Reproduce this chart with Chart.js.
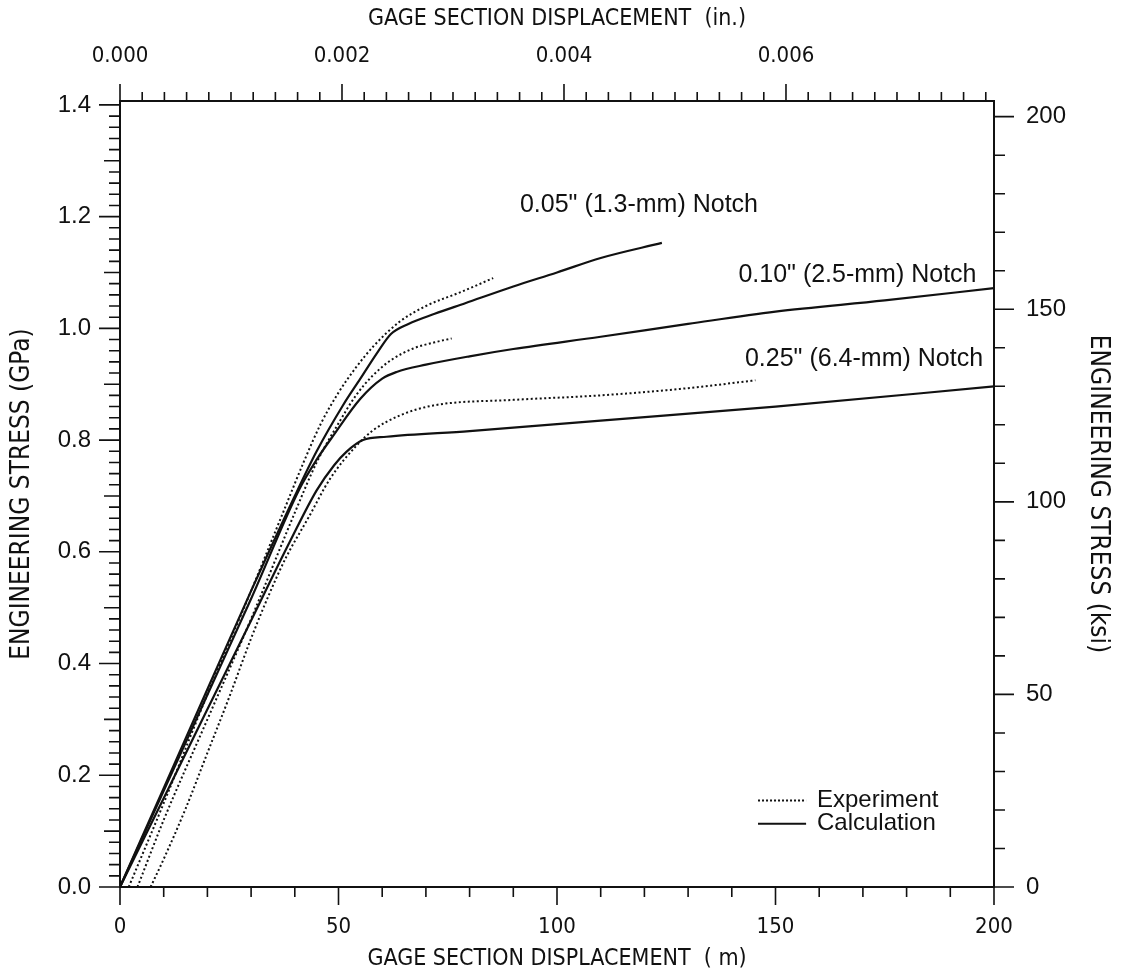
<!DOCTYPE html>
<html lang="en">
<head>
<meta charset="UTF-8">
<title>Engineering stress vs gage section displacement</title>
<script src="https://cdn.jsdelivr.net/npm/chart.js"></script>
<style>
  body { margin: 0; background: #fff; }
  #wrap { width: 1121px; height: 980px; }
</style>
</head>
<body>
<div id="wrap"><canvas id="stressChart"></canvas></div>
<script>
// displacement in micrometres, stress in GPa
const calc05X = [0, 10, 20, 30, 40, 45, 51, 55, 59, 62, 66, 72, 79, 90, 100, 110, 124];
const calc05Y = [0, 0.177, 0.354, 0.53, 0.70, 0.78, 0.862, 0.91, 0.958, 0.99, 1.008, 1.026, 1.045, 1.075, 1.10, 1.126, 1.153];
const exp05X = [2, 10, 20, 30, 37.3, 42, 46, 50, 54, 58, 64, 70, 78, 85.4];
const exp05Y = [0, 0.15, 0.345, 0.53, 0.67, 0.76, 0.83, 0.885, 0.93, 0.968, 1.012, 1.04, 1.065, 1.09];

const calc10X = [0, 10, 20, 30, 41.1, 45, 48.8, 55, 60, 63.3, 70, 80, 90, 110, 130, 150, 175, 200];
const calc10Y = [0, 0.172, 0.344, 0.516, 0.713, 0.765, 0.808, 0.874, 0.91, 0.922, 0.935, 0.95, 0.963, 0.985, 1.008, 1.03, 1.05, 1.072];
const exp10X = [4, 10, 20, 30, 40, 45, 50, 54, 57.9, 62, 67.1, 72, 75.9];
const exp10Y = [0, 0.12, 0.30, 0.48, 0.67, 0.76, 0.83, 0.88, 0.916, 0.943, 0.964, 0.975, 0.982];

const calc25X = [0, 10, 20, 30, 38.8, 45, 49, 51.8, 55.6, 61, 80, 110, 150, 200];
const calc25Y = [0, 0.159, 0.318, 0.477, 0.617, 0.71, 0.755, 0.779, 0.80, 0.806, 0.816, 0.835, 0.86, 0.896];
const exp25X = [7, 10, 15, 20, 25, 30, 34.3, 38, 43.4, 48, 54.1, 58, 64, 71.7, 90, 109.9, 130, 145.4];
const exp25Y = [0, 0.05, 0.14, 0.24, 0.34, 0.445, 0.527, 0.59, 0.665, 0.73, 0.79, 0.818, 0.844, 0.862, 0.872, 0.88, 0.893, 0.907];

const bottomTicks = [0, 50, 100, 150, 200];
const topTicks = [0, 0.002, 0.004, 0.006];
const leftTicks = [0, 0.2, 0.4, 0.6, 0.8, 1.0, 1.2, 1.4];
const rightTicks = [0, 50, 100, 150, 200];

const UM_PER_IN = 25400;
const KSI_PER_GPA = 145.038;
const X_MAX = 200;
const Y_MAX = 1.407;

const INK = '#111';
const plain = '"Liberation Sans", Arial, sans-serif';
const narrow = '"Liberation Sans Narrow", "DejaVu Sans Condensed", "Liberation Sans", sans-serif';

function pts(xs, ys) {
  return xs.map((x, i) => ({ x: x, y: ys[i] }));
}

function curve(xs, ys, dotted) {
  return {
    data: pts(xs, ys),
    borderColor: INK,
    borderWidth: dotted ? 2 : 2.2,
    borderDash: dotted ? [2, 2.5] : [],
    pointRadius: 0,
    cubicInterpolationMode: 'monotone',
    fill: false
  };
}

function fixedTicks(list) {
  return scale => { scale.ticks = list.map(v => ({ value: v })); };
}

// tick marks on all four sides, drawn outward
const tickMarks = {
  id: 'tickMarks',
  afterDraw(chart) {
    const ctx = chart.ctx;
    const a = chart.chartArea;
    const s = chart.scales;
    ctx.save();
    ctx.strokeStyle = INK;
    ctx.lineWidth = 1.6;
    ctx.beginPath();
    for (let i = 0; i <= 20; i++) {
      const px = s.x.getPixelForValue(i * 10);
      ctx.moveTo(px, a.bottom);
      ctx.lineTo(px, a.bottom + (i % 5 === 0 ? 18 : 10));
    }
    for (let i = 0; i <= 39; i++) {
      const px = s.xTop.getPixelForValue(i * 0.0002);
      ctx.moveTo(px, a.top);
      ctx.lineTo(px, a.top - (i % 10 === 0 ? 17 : 9));
    }
    for (let i = 0; i <= 70; i++) {
      const py = s.y.getPixelForValue(i * 0.02);
      ctx.moveTo(a.left, py);
      ctx.lineTo(a.left - (i % 10 === 0 ? 21 : (i % 5 === 0 ? 16 : 11)), py);
    }
    for (let i = 0; i <= 20; i++) {
      const py = s.yRight.getPixelForValue(i * 10);
      ctx.moveTo(a.right, py);
      ctx.lineTo(a.right + (i % 5 === 0 ? 20 : 11), py);
    }
    ctx.stroke();
    ctx.restore();
  }
};

// notch labels and the small line-style key
const notes = {
  id: 'notes',
  afterDraw(chart) {
    const ctx = chart.ctx;
    const x = chart.scales.x;
    const y = chart.scales.y;
    ctx.save();
    ctx.fillStyle = INK;
    ctx.font = '25px ' + plain;
    ctx.textBaseline = 'middle';
    ctx.textAlign = 'right';
    ctx.fillText('0.05" (1.3-mm) Notch', x.getPixelForValue(146), y.getPixelForValue(1.22));
    ctx.fillText('0.10" (2.5-mm) Notch', x.getPixelForValue(196), y.getPixelForValue(1.095));
    ctx.fillText('0.25" (6.4-mm) Notch', x.getPixelForValue(197.5), y.getPixelForValue(0.945));

    ctx.font = '24px ' + plain;
    ctx.textAlign = 'left';
    const lx0 = x.getPixelForValue(146);
    const lx1 = x.getPixelForValue(157);
    const tx = x.getPixelForValue(159.5);
    const rows = [['Experiment', true, 0.155], ['Calculation', false, 0.113]];
    rows.forEach(r => {
      const py = y.getPixelForValue(r[2]);
      ctx.beginPath();
      ctx.lineWidth = 2;
      ctx.strokeStyle = INK;
      ctx.setLineDash(r[1] ? [2, 2] : []);
      ctx.moveTo(lx0, py);
      ctx.lineTo(lx1, py);
      ctx.stroke();
      ctx.setLineDash([]);
      ctx.fillText(r[0], tx, py);
    });
    ctx.restore();
  }
};

const axisBorder = { display: true, color: INK, width: 2 };

new Chart(document.getElementById('stressChart'), {
  type: 'line',
  data: {
    datasets: [
      curve(calc05X, calc05Y, false),
      curve(exp05X, exp05Y, true),
      curve(calc10X, calc10Y, false),
      curve(exp10X, exp10Y, true),
      curve(calc25X, calc25Y, false),
      curve(exp25X, exp25Y, true)
    ]
  },
  options: {
    responsive: true,
    maintainAspectRatio: false,
    animation: false,
    layout: { padding: 0 },
    plugins: { legend: { display: false }, tooltip: { enabled: false } },
    scales: {
      x: {
        type: 'linear', position: 'bottom', min: 0, max: X_MAX,
        afterBuildTicks: fixedTicks(bottomTicks),
        afterFit: s => { s.height = 93; },
        grid: { display: false, drawTicks: false },
        border: axisBorder,
        ticks: { padding: 27, color: INK, font: { family: narrow, size: 22 } },
        title: { display: true, text: 'GAGE SECTION DISPLACEMENT  ( m)', color: INK,
                 font: { family: narrow, size: 23 }, padding: { top: 0, bottom: 7 } }
      },
      xTop: {
        type: 'linear', position: 'top', min: 0, max: X_MAX / UM_PER_IN,
        afterBuildTicks: fixedTicks(topTicks),
        afterFit: s => { s.height = 101; },
        grid: { display: false, drawTicks: false },
        border: axisBorder,
        ticks: { padding: 32, color: INK, font: { family: narrow, size: 22 },
                 callback: v => v.toFixed(3) },
        title: { display: true, text: 'GAGE SECTION DISPLACEMENT  (in.)', color: INK,
                 font: { family: narrow, size: 23 }, padding: { top: 5, bottom: 0 } }
      },
      y: {
        type: 'linear', position: 'left', min: 0, max: Y_MAX,
        afterBuildTicks: fixedTicks(leftTicks),
        afterFit: s => { s.width = 120; },
        grid: { display: false, drawTicks: false },
        border: axisBorder,
        ticks: { padding: 29, color: INK, font: { family: plain, size: 24 },
                 callback: v => v.toFixed(1) },
        title: { display: true, text: 'ENGINEERING STRESS (GPa)', color: INK,
                 font: { family: narrow, size: 26 }, padding: { top: 7, bottom: 0 } }
      },
      yRight: {
        type: 'linear', position: 'right', min: 0, max: Y_MAX * KSI_PER_GPA,
        afterBuildTicks: fixedTicks(rightTicks),
        afterFit: s => { s.width = 127; },
        grid: { display: false, drawTicks: false },
        border: axisBorder,
        ticks: { padding: 32, color: INK, font: { family: plain, size: 24 } },
        title: { display: true, text: 'ENGINEERING STRESS (ksi)', color: INK,
                 font: { family: narrow, size: 26 }, padding: { top: 8, bottom: 0 } }
      }
    }
  },
  plugins: [tickMarks, notes]
});
</script>
</body>
</html>
